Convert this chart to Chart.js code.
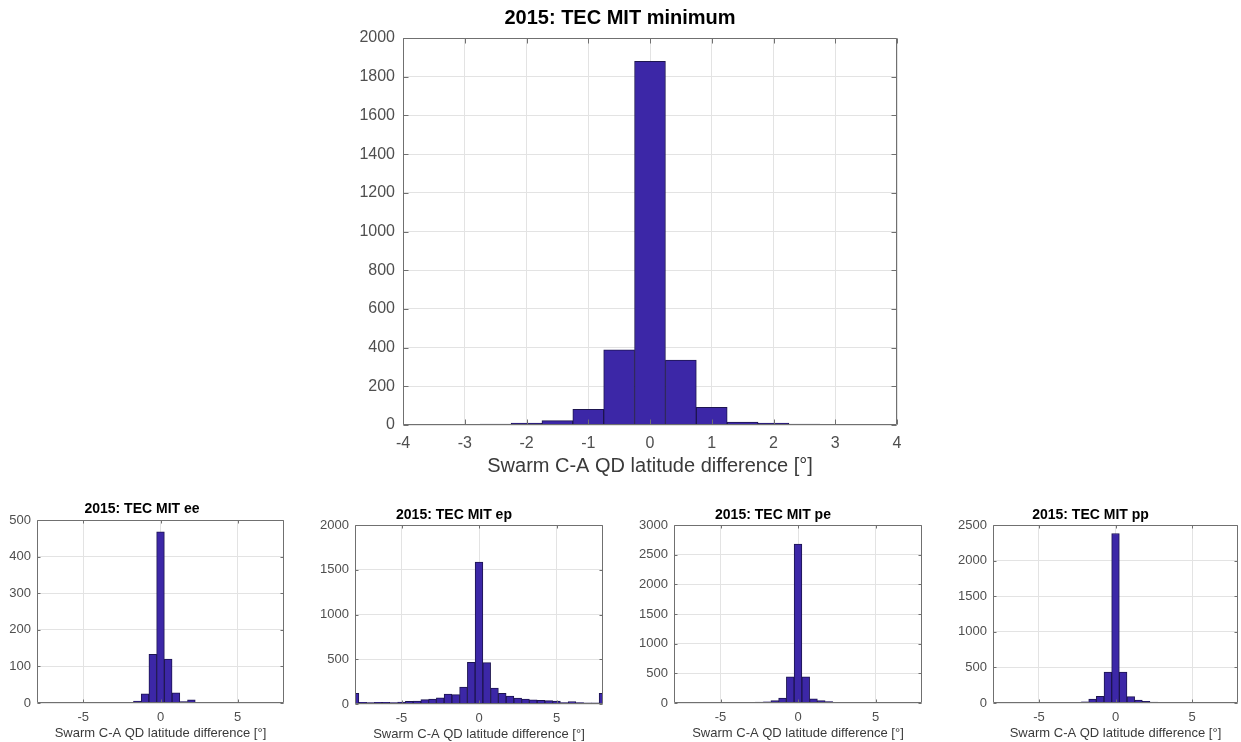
<!DOCTYPE html>
<html>
<head>
<meta charset="utf-8">
<title>2015: TEC MIT minimum</title>
<script src="https://cdn.jsdelivr.net/npm/chart.js@4.4.0/dist/chart.umd.min.js"></script>
<style>
  html,body{margin:0;padding:0;background:#fff;}
  body{width:1241px;height:742px;position:relative;overflow:hidden;}
  .panel{position:absolute;}
</style>
</head>
<body>
<div class="panel" id="pMain"><canvas id="cMain"></canvas></div>
<div class="panel" id="pEE"><canvas id="cEE"></canvas></div>
<div class="panel" id="pEP"><canvas id="cEP"></canvas></div>
<div class="panel" id="pPE"><canvas id="cPE"></canvas></div>
<div class="panel" id="pPP"><canvas id="cPP"></canvas></div>
<script>
/* ---------- data (bin centres in degrees, counts per bin) ---------- */
const mainBins   = [-2.5,-2,-1.5,-1,-0.5,0,0.5,1,1.5,2,2.5];
const mainCounts = [5,10,23,81,388,1880,335,91,15,10,5];

const smallBins = [-8,-7.5,-7,-6.5,-6,-5.5,-5,-4.5,-4,-3.5,-3,-2.5,-2,-1.5,-1,-0.5,
                   0,0.5,1,1.5,2,2.5,3,3.5,4,4.5,5,5.5,6,6.5,7,7.5,8];
const eeCounts = [0,0,0,0,0,0,2,0,0,0,0,1,2,5,25,133,
                  468,120,28,4,9,2,0,1,0,0,0,0,0,0,0,0,0];
const epCounts = [120,20,15,18,20,15,22,30,32,48,55,68,110,105,190,465,
                  1585,462,178,120,88,66,55,47,42,38,32,15,28,15,12,12,120];
const peCounts = [0,0,0,0,0,0,0,0,4,4,12,14,20,40,85,440,
                  2680,440,70,40,22,12,6,2,0,4,3,0,0,0,0,0,0];
const ppCounts = [0,0,0,0,3,3,0,0,3,6,7,10,18,55,92,435,
                  2380,435,90,40,22,12,7,3,0,0,3,3,0,0,0,0,0];

const mainTitle = '2015: TEC MIT minimum';
const xLabel    = 'Swarm C-A QD latitude difference [°]';

/* ---------- style ---------- */
const FONT    = "'Liberation Sans', Arial, Helvetica, sans-serif";
const barFill = '#3c27a7';
const barEdge = '#1d1550';
const gridCol = '#e3e3e3';
const boxCol  = '#707070';
const tickCol = '#4f4f4f';

/* axes box with inward ticks, like the original plot */
const boxPlugin = {
  id:'box',
  afterDatasetsDraw(chart, args, o){
    const {ctx, chartArea:a, scales:{x,y}} = chart;
    const L = Math.round(a.left)+.5, R = Math.round(a.right)-.5;
    const T = Math.round(a.top)+.5,  B = Math.round(a.bottom)-.5;
    ctx.save();
    ctx.strokeStyle = boxCol; ctx.lineWidth = 1;
    ctx.beginPath();
    ctx.rect(L, T, R-L, B-T);
    x.ticks.forEach(t=>{
      const px = Math.round(x.getPixelForValue(t.value))+.5;
      ctx.moveTo(px,B); ctx.lineTo(px,B-o.len);
      ctx.moveTo(px,T); ctx.lineTo(px,T+o.len);
    });
    y.ticks.forEach(t=>{
      const py = Math.round(y.getPixelForValue(t.value))+.5;
      ctx.moveTo(L,py); ctx.lineTo(L+o.len,py);
      ctx.moveTo(R,py); ctx.lineTo(R-o.len,py);
    });
    ctx.stroke();
    ctx.restore();
  }
};

function histChart(id, bins, counts, s){
  const titleH = s.titleSize*1.2 + s.titlePad[0] + s.titlePad[1];
  const panel  = document.getElementById('p'+id);
  panel.style.left   = (s.area.l - s.yw)+'px';
  panel.style.top    = (s.area.t - titleH)+'px';
  panel.style.width  = (s.yw + s.area.r - s.area.l + s.padR)+'px';
  panel.style.height = (titleH + s.area.b - s.area.t + s.xh)+'px';

  const pts = bins.map((b,i)=>({x:b, y:counts[i]})).filter(p=>p.y>0);

  return new Chart(document.getElementById('c'+id),{
    type:'bar',
    data:{datasets:[{data:pts, backgroundColor:barFill, borderColor:barEdge,
                     borderWidth:1, barPercentage:1, categoryPercentage:1}]},
    plugins:[boxPlugin],
    options:{
      responsive:true, maintainAspectRatio:false, animation:false,
      layout:{padding:{left:0,top:0,right:s.padR,bottom:0}},
      plugins:{
        legend:{display:false}, tooltip:{enabled:false},
        title:{display:true, text:s.title, color:'#000',
               font:{family:FONT, size:s.titleSize, weight:'bold', lineHeight:1.2},
               padding:{top:s.titlePad[0], bottom:s.titlePad[1]}},
        box:{len:s.tickLen}
      },
      scales:{
        x:{type:'linear', min:s.xmin, max:s.xmax, offset:false,
           afterFit:sc=>{sc.height = s.xh;},
           grid:{color:gridCol, drawTicks:false, offset:false},
           border:{display:false},
           ticks:{stepSize:s.xstep, includeBounds:false, color:tickCol, padding:s.tickPad,
                  font:{family:FONT, size:s.tickSize}, callback:v=>String(v)},
           title:{display:true, text:xLabel, color:'#3a3a3a',
                  font:{family:FONT, size:s.labelSize, lineHeight:1.2},
                  padding:{top:0, bottom:s.labelPadB}}},
        y:{min:0, max:s.ymax,
           afterFit:sc=>{sc.width = s.yw;},
           grid:{color:gridCol, drawTicks:false},
           border:{display:false},
           ticks:{stepSize:s.ystep, color:tickCol, padding:s.tickPad-1,
                  font:{family:FONT, size:s.tickSize}, callback:v=>String(v)}}
      }
    }
  });
}

/* ---------- main panel ---------- */
histChart('Main', mainBins, mainCounts, {
  title:mainTitle, area:{l:403,t:38,r:897,b:425}, yw:60, padR:20, xh:60,
  titleSize:20, titlePad:[6,8], tickSize:16, labelSize:20, labelPadB:7,
  tickPad:9, tickLen:5, xmin:-4, xmax:4, xstep:1, ymax:2000, ystep:200
});

/* ---------- four small panels ---------- */
const small = {titleSize:14, tickSize:13, labelSize:13, labelPadB:2, tickPad:7,
               tickLen:3, xh:40, padR:12, xmin:-8, xmax:8, xstep:5};

histChart('EE', smallBins, eeCounts, {...small, title:'2015: TEC MIT ee',
  area:{l:37,t:520,r:284,b:703}, yw:37, titlePad:[3.6,2.6], ymax:500, ystep:100});
histChart('EP', smallBins, epCounts, {...small, title:'2015: TEC MIT ep',
  area:{l:355,t:525,r:603,b:704}, yw:50, titlePad:[3.6,1.6], ymax:2000, ystep:500});
histChart('PE', smallBins, peCounts, {...small, title:'2015: TEC MIT pe',
  area:{l:674,t:525,r:922,b:703}, yw:50, titlePad:[3.6,1.6], ymax:3000, ystep:500});
histChart('PP', smallBins, ppCounts, {...small, title:'2015: TEC MIT pp',
  area:{l:993,t:525,r:1238,b:703}, yw:50, titlePad:[3.6,1.6], ymax:2500, ystep:500});
</script>
</body>
</html>
